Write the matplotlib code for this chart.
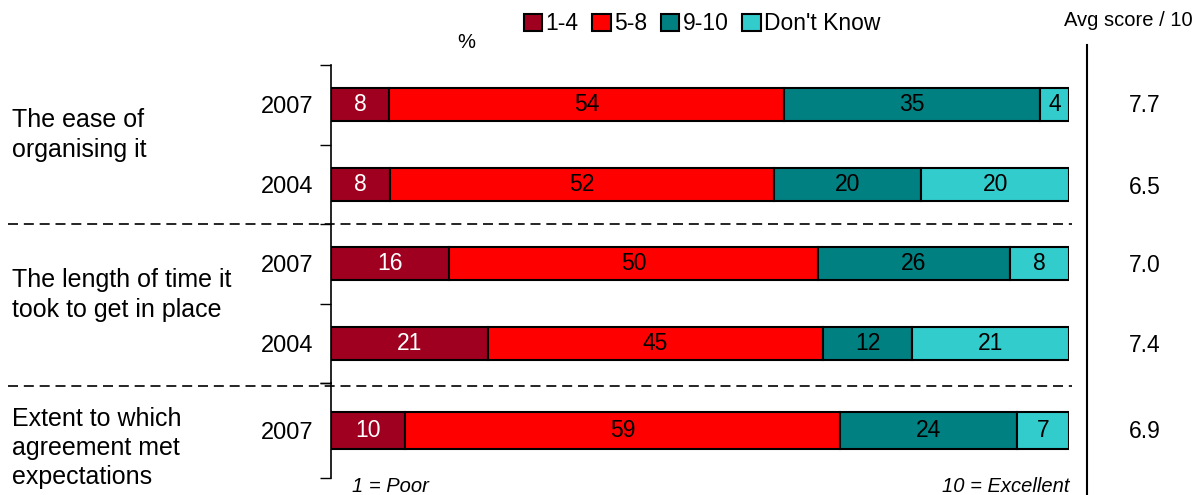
import matplotlib
matplotlib.use("Agg")
import matplotlib.pyplot as plt
import numpy as np
from matplotlib.patches import Patch
from matplotlib.lines import Line2D

plt.rcParams['font.family'] = ['Liberation Sans', 'DejaVu Sans']

# ---- data ----
groups = ["The ease of\norganising it", "The length of time it\ntook to get in place",
          "Extent to which\nagreement met\nexpectations"]
years = ["2007", "2004", "2007", "2004", "2007"]
series_names = ["1-4", "5-8", "9-10", "Don't Know"]
v_1_4 = [8, 8, 16, 21, 10]
v_5_8 = [54, 52, 50, 45, 59]
v_9_10 = [35, 20, 26, 12, 24]
v_dk = [4, 20, 8, 21, 7]
avg_scores = ["7.7", "6.5", "7.0", "7.4", "6.9"]

colors = ["#A00020", "#FF0000", "#008080", "#33CCCC"]
text_colors = ["white", "black", "black", "black"]

W, H = 1196, 495
fig = plt.figure(figsize=(W / 100, H / 100), dpi=100)

def fx(px):
    return px / W

def fy(py):
    return 1 - py / H

values = np.array([v_1_4, v_5_8, v_9_10, v_dk], dtype=float)
totals = values.sum(axis=0)
norm = values / totals * 100

x0, x1 = 331, 1069
ax_top = fig.add_axes([fx(x0), fy(383), fx(x1) - fx(x0), fy(65) - fy(383)])
ax_bot = fig.add_axes([fx(x0), fy(478), fx(x1) - fx(x0), fy(383) - fy(478)])

def draw(ax, rows, height):
    n = len(rows)
    ypos = np.arange(n)
    left = np.zeros(n)
    for s in range(4):
        w = norm[s, rows]
        ax.barh(ypos, w, left=left, height=height, color=colors[s],
                edgecolor="black", linewidth=1.5)
        for i, r in enumerate(rows):
            ax.text(left[i] + w[i] / 2, ypos[i], f"{int(values[s, r])}",
                    ha="center", va="center", fontsize=16.5, color=text_colors[s])
        left = left + w
    ax.set_xlim(0, 100)
    ax.set_ylim(n - 0.5, -0.5)
    ax.set_yticks(ypos)
    ax.set_yticklabels([years[r] for r in rows], fontsize=17)
    ax.set_yticks(np.arange(-0.5, n, 1.0), minor=True)
    ax.tick_params(axis="y", which="major", length=0, pad=12.5)
    ax.tick_params(axis="y", which="minor", length=8, width=1, direction="out")
    ax.set_xticks([])
    for sp in ["top", "right", "bottom"]:
        ax.spines[sp].set_visible(False)
    ax.spines["left"].set_linewidth(1.2)
    ax.patch.set_visible(False)

draw(ax_top, [0, 1, 2, 3], 0.42)
draw(ax_bot, [4], 0.39)

# group labels
fig.text(fx(12), fy(135), groups[0], ha="left", va="center", fontsize=18, linespacing=1.32)
fig.text(fx(12), fy(295), groups[1], ha="left", va="center", fontsize=18, linespacing=1.32)
fig.text(fx(12), fy(448), groups[2], ha="left", va="center", fontsize=18, linespacing=1.25)

# dashed separators
for yy in [224, 386]:
    fig.add_artist(Line2D([fx(8), fx(1072)], [fy(yy), fy(yy)], color="black",
                          linestyle=(0, (6, 3.5)), linewidth=1.2))

# right vertical separator
fig.add_artist(Line2D([fx(1087), fx(1087)], [fy(45), fy(495)], color="black", linewidth=1.5))

# avg scores
fig.text(fx(1128), fy(20), "Avg score / 10", ha="center", va="center", fontsize=14.5)
score_y = [105, 188, 265, 346, 432]
for s, yy in zip(avg_scores, score_y):
    fig.text(fx(1145), fy(yy), s, ha="center", va="center", fontsize=16.5)

# % label
fig.text(fx(466), fy(42), "%", ha="center", va="center", fontsize=14.5)

# bottom annotations
fig.text(fx(352), fy(486), "1 = Poor", ha="left", va="center", fontsize=14.5, style="italic")
fig.text(fx(1069), fy(486), "10 = Excellent", ha="right", va="center", fontsize=14.5, style="italic")

# legend
handles = [Patch(facecolor=c, edgecolor="black", linewidth=1.5) for c in colors]
fig.legend(handles, series_names, loc="center", bbox_to_anchor=(fx(702), fy(24)),
           ncol=4, frameon=False, fontsize=16.5, handlelength=0.8, handleheight=0.8,
           handletextpad=0.15, columnspacing=0.6, borderpad=0)

fig.savefig("out.png", dpi=100)
